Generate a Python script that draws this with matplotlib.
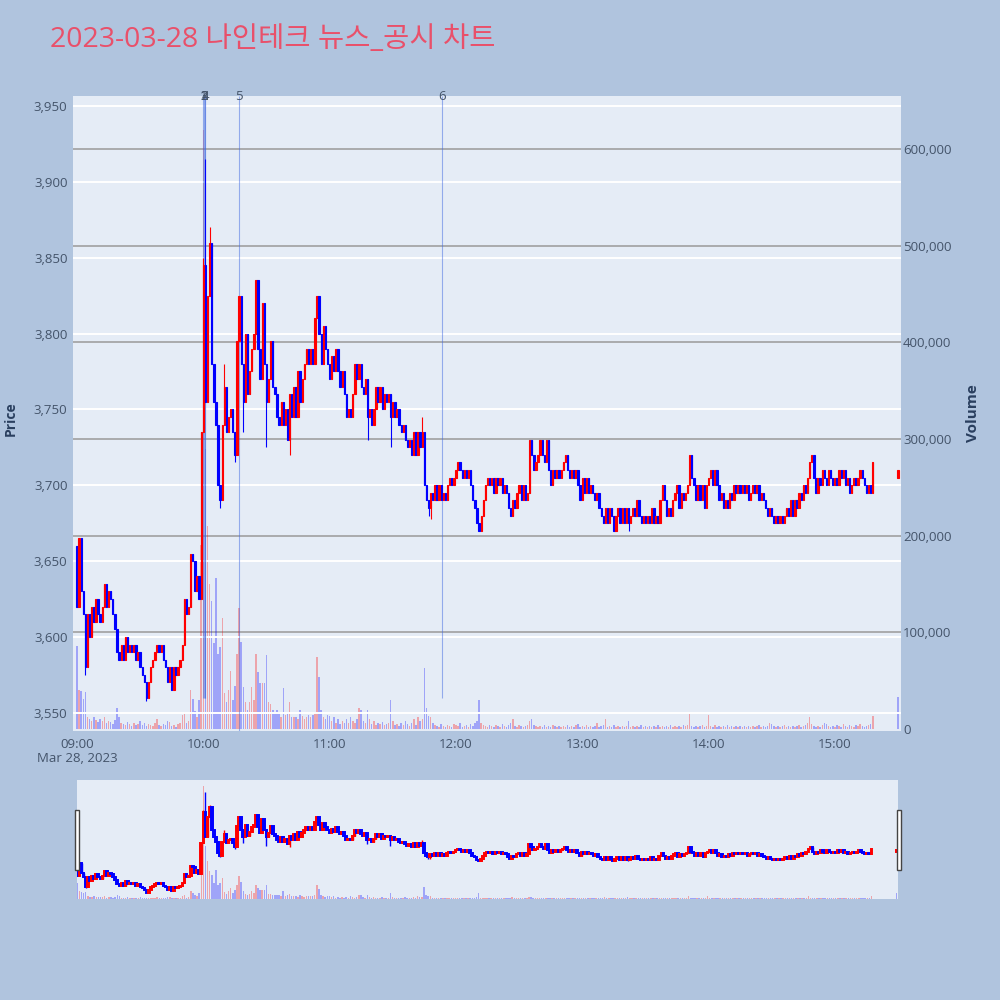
import numpy as np
import matplotlib.pyplot as plt
from matplotlib.patches import Rectangle
from matplotlib.transforms import blended_transform_factory

plt.rcParams['font.family'] = ['Open Sans', 'Noto Sans CJK KR', 'DejaVu Sans']

title = '2023-03-28 나인테크 뉴스_공시 차트'

# 1-minute closes from 09:00 (index = minutes after 09:00), last value = 15:30 auction
first_open = 3660
auction_open = 3705
close = [
    3620, 3665, 3630, 3615, 3580, 3615, 3600, 3620, 3610, 3625,
    3615, 3610, 3620, 3635, 3620, 3630, 3625, 3615, 3605, 3590,
    3585, 3595, 3585, 3600, 3590, 3595, 3590, 3595, 3585, 3590,
    3580, 3575, 3570, 3560, 3570, 3580, 3585, 3590, 3595, 3590,
    3595, 3585, 3580, 3570, 3580, 3565, 3580, 3575, 3580, 3585,
    3595, 3625, 3615, 3620, 3655, 3650, 3630, 3640, 3625, 3735,
    3845, 3755, 3825, 3860, 3780, 3755, 3740, 3700, 3690, 3740,
    3765, 3735, 3745, 3750, 3735, 3720, 3795, 3825, 3780, 3755,
    3800, 3760, 3775, 3790, 3800, 3835, 3790, 3770, 3820, 3780,
    3755, 3770, 3795, 3765, 3760, 3745, 3740, 3755, 3740, 3750,
    3730, 3760, 3745, 3765, 3745, 3775, 3755, 3770, 3780, 3790,
    3780, 3790, 3780, 3810, 3825, 3800, 3780, 3805, 3790, 3780,
    3770, 3785, 3775, 3790, 3775, 3765, 3775, 3760, 3745, 3750,
    3745, 3760, 3780, 3770, 3780, 3765, 3760, 3770, 3745, 3750,
    3740, 3750, 3765, 3755, 3765, 3750, 3760, 3755, 3760, 3745,
    3755, 3745, 3750, 3740, 3735, 3740, 3730, 3725, 3730, 3720,
    3735, 3720, 3735, 3725, 3735, 3700, 3690, 3685, 3695, 3690,
    3700, 3690, 3700, 3690, 3695, 3690, 3700, 3705, 3700, 3705,
    3710, 3715, 3710, 3705, 3710, 3705, 3710, 3700, 3690, 3685,
    3675, 3670, 3680, 3690, 3700, 3705, 3700, 3705, 3695, 3705,
    3700, 3705, 3695, 3700, 3695, 3685, 3680, 3690, 3685, 3695,
    3700, 3690, 3700, 3690, 3695, 3730, 3720, 3710, 3715, 3720,
    3730, 3720, 3715, 3730, 3710, 3700, 3710, 3705, 3710, 3705,
    3710, 3715, 3720, 3710, 3705, 3710, 3705, 3710, 3700, 3690,
    3705, 3695, 3705, 3695, 3700, 3695, 3690, 3695, 3685, 3680,
    3675, 3685, 3675, 3685, 3680, 3670, 3680, 3685, 3675, 3685,
    3675, 3685, 3675, 3680, 3685, 3680, 3690, 3680, 3675, 3680,
    3675, 3680, 3675, 3685, 3675, 3680, 3675, 3690, 3700, 3690,
    3680, 3685, 3680, 3690, 3695, 3700, 3685, 3695, 3690, 3695,
    3700, 3720, 3705, 3700, 3690, 3700, 3690, 3700, 3685, 3700,
    3705, 3710, 3700, 3710, 3700, 3690, 3695, 3685, 3690, 3685,
    3695, 3690, 3700, 3695, 3700, 3695, 3700, 3695, 3700, 3690,
    3695, 3700, 3695, 3700, 3690, 3695, 3690, 3685, 3680, 3685,
    3680, 3675, 3680, 3675, 3680, 3675, 3680, 3685, 3680, 3690,
    3680, 3690, 3685, 3695, 3690, 3700, 3695, 3705, 3715, 3720,
    3705, 3695, 3705, 3700, 3710, 3705, 3700, 3710, 3705, 3700,
    3705, 3700, 3710, 3705, 3710, 3700, 3705, 3695, 3700, 3705,
    3700, 3705, 3710, 3705, 3700, 3695, 3700, 3695, 3715,
    3710,
]
volume = [
    86000, 40000, 39000, 31000, 38000, 13000, 10000, 8000, 12000, 9000,
    7000, 10000, 8000, 12000, 6000, 8000, 7000, 5000, 9000, 22000,
    12000, 6000, 5000, 4000, 7000, 5000, 3000, 6000, 4000, 5000,
    8000, 4000, 6000, 3000, 5000, 4000, 3000, 6000, 10000, 4000,
    3000, 5000, 4000, 8000, 7000, 3000, 4000, 2000, 5000, 6000,
    15000, 18000, 6000, 8000, 40000, 31000, 19000, 12000, 30000, 190000,
    620000, 290000, 210000, 150000, 133000, 89000, 156000, 78000, 85000, 115000,
    37000, 28000, 40000, 60000, 30000, 45000, 78000, 125000, 90000, 44000,
    28000, 20000, 28000, 44000, 30000, 78000, 59000, 48000, 48000, 48000,
    77000, 28000, 26000, 20000, 18000, 20000, 18000, 12000, 43000, 15000,
    18000, 28000, 12000, 12000, 12000, 10000, 20000, 14000, 10000, 12000,
    15000, 13000, 15000, 18000, 75000, 54000, 20000, 12000, 10000, 15000,
    14000, 8000, 12000, 6000, 10000, 5000, 8000, 6000, 10000, 6000,
    12000, 8000, 6000, 10000, 22000, 20000, 8000, 6000, 20000, 10000,
    5000, 8000, 4000, 6000, 5000, 7000, 4000, 5000, 6000, 30000,
    8000, 4000, 5000, 3000, 6000, 4000, 8000, 5000, 3000, 6000,
    10000, 4000, 12000, 8000, 10000, 63000, 22000, 14000, 12000, 6000,
    4000, 3000, 2000, 5000, 3000, 2000, 4000, 3000, 2000, 5000,
    4000, 3000, 6000, 2000, 3000, 4000, 2000, 5000, 3000, 6000,
    8000, 30000, 6000, 4000, 3000, 2000, 4000, 3000, 2000, 4000,
    3000, 2000, 5000, 3000, 2000, 4000, 6000, 10000, 3000, 2000,
    4000, 3000, 2000, 3000, 4000, 8000, 10000, 4000, 3000, 2000,
    3000, 2000, 4000, 2000, 3000, 2000, 4000, 3000, 2000, 3000,
    2000, 3000, 2000, 4000, 2000, 3000, 2000, 4000, 5000, 2000,
    3000, 2000, 4000, 2000, 3000, 2000, 3000, 6000, 2000, 3000,
    4000, 10000, 2000, 3000, 2000, 4000, 2000, 3000, 2000, 3000,
    2000, 3000, 8000, 2000, 3000, 2000, 3000, 2000, 4000, 2000,
    3000, 2000, 3000, 2000, 3000, 2000, 4000, 2000, 3000, 2000,
    3000, 2000, 4000, 2000, 3000, 2000, 3000, 2000, 4000, 3000,
    4000, 16000, 3000, 2000, 3000, 2000, 3000, 4000, 2000, 3000,
    15000, 3000, 2000, 4000, 2000, 3000, 2000, 3000, 2000, 4000,
    2000, 3000, 2000, 3000, 2000, 3000, 2000, 3000, 2000, 3000,
    2000, 3000, 2000, 3000, 4000, 2000, 3000, 2000, 3000, 6000,
    5000, 3000, 2000, 3000, 2000, 3000, 4000, 2000, 3000, 2000,
    3000, 2000, 3000, 4000, 2000, 3000, 4000, 6000, 12000, 5000,
    3000, 2000, 3000, 2000, 4000, 6000, 5000, 3000, 2000, 3000,
    2000, 4000, 3000, 2000, 5000, 3000, 2000, 4000, 3000, 2000,
    4000, 3000, 5000, 3000, 2000, 3000, 4000, 5000, 14000,
    33000,
]
minutes = list(range(379)) + [390]

wick_hi = {60: 3850, 61: 3915, 63: 3870, 70: 3780, 164: 3745}
wick_lo = {4: 3575, 33: 3558, 68: 3685, 75: 3715, 79: 3735, 90: 3725,
           101: 3720, 138: 3730, 149: 3725, 167: 3680, 168: 3678, 262: 3670}

news_time = ['10:00:05', '10:00:20', '10:00:35', '10:00:50', '10:17:00', '11:53:20']
news_label = ['1', '2', '3', '4', '5', '6']
news_bottom = [3560, 3560, 3560, 3560, 3538, 3560]

price_ticks = [3550, 3600, 3650, 3700, 3750, 3800, 3850, 3900, 3950]
vol_ticks = [0, 100000, 200000, 300000, 400000, 500000, 600000]
time_labels = ['09:00', '10:00', '11:00', '12:00', '13:00', '14:00', '15:00']

assert len(close) == len(volume) == len(minutes)

UP, DOWN = '#ff0000', '#0000ff'
BG, PAPER = '#e5ecf6', '#b0c4de'
TXT = '#44546a'

opens = [first_open] + close[:-2] + [auction_open]
prev = [first_open] + close[:-1]
m = np.array(minutes, dtype=float)
o = np.array(opens, dtype=float)
c = np.array(close, dtype=float)
hi = np.array([wick_hi.get(k, max(a, b)) for k, a, b in zip(minutes, o, c)])
lo = np.array([wick_lo.get(k, min(a, b)) for k, a, b in zip(minutes, o, c)])
ccol = [UP if b > a else DOWN for a, b in zip(o, c)]
vcol = [UP if b > a else DOWN for a, b in zip(prev, close)]
news_min = []
for t in news_time:
    hh, mm, ss = [int(v) for v in t.split(':')]
    news_min.append((hh - 9) * 60 + mm + ss / 60)


def draw(ax_p, ax_v, body_lw, wick_lw, width):
    ax_v.bar(m, volume, width=0.7, color=vcol, alpha=0.3, lw=0, zorder=2)
    ax_p.vlines(m, lo, hi, colors=ccol, lw=wick_lw, zorder=4)
    ax_p.bar(m, np.maximum(np.abs(c - o), 0.3), bottom=np.minimum(o, c),
             width=width, color=ccol, edgecolor=ccol, lw=body_lw, zorder=5)


fig = plt.figure(figsize=(10, 10), dpi=100, facecolor=PAPER)

# main chart: volume axis behind, price axis in front
axv = fig.add_axes([0.073, 0.269, 0.828, 0.635])
ax = fig.add_axes([0.073, 0.269, 0.828, 0.635], sharex=axv)
ax.patch.set_visible(False)
axv.set_facecolor(BG)

ax.set_xlim(-1.9, 391.4)
ax.set_ylim(3538, 3956.6)
axv.set_ylim(-2000, 655000)

for v in vol_ticks[1:]:
    axv.axhline(v, color='#a0a0a0', lw=1.2, zorder=1)
for p in price_ticks:
    ax.axhline(p, color='white', lw=1.4, zorder=1)

for t, b in zip(news_min, news_bottom):
    ax.vlines(t, b, 3956.6, color='royalblue', alpha=0.5, lw=0.8, zorder=3)
tr = blended_transform_factory(ax.transData, ax.transAxes)
for t, lab in zip(news_min, news_label):
    ax.text(t, 1.0, lab, transform=tr, ha='center', va='center', fontsize=9.5, color=TXT)

draw(ax, axv, 0.8, 0.8, 0.65)

for a in (ax, axv):
    for s in a.spines.values():
        s.set_visible(False)
    a.tick_params(length=0)

ax.yaxis.tick_left()
ax.set_yticks(price_ticks)
ax.set_yticklabels([f'{p:,}' for p in price_ticks], fontsize=9.5, color=TXT)
ax.tick_params(axis='y', pad=4)
axv.yaxis.tick_right()
axv.set_yticks(vol_ticks)
axv.set_yticklabels([f'{v:,}' for v in vol_ticks], fontsize=9.5, color=TXT)
axv.tick_params(axis='y', pad=1.5)

xt = [i * 60 for i in range(len(time_labels))]
axv.set_xticks(xt)
labels = list(time_labels)
labels[0] = labels[0] + '\nMar 28, 2023'
axv.set_xticklabels(labels, fontsize=9.5, color=TXT, va='top', linespacing=1.1)
axv.tick_params(axis='x', pad=5)
ax.tick_params(axis='x', labelbottom=False)

fig.text(0.011, 0.581, 'Price', rotation=90, ha='center', va='center',
         fontsize=10, fontweight='bold', color='#2a3f5f')
fig.text(0.973, 0.587, 'Volume', rotation=90, ha='center', va='center',
         fontsize=11, fontweight='bold', color='#2a3f5f')

fig.text(0.05, 0.96, title, ha='left', va='center', fontsize=20.5, color='#e9506a')

# range slider
sv = fig.add_axes([0.0767, 0.101, 0.821, 0.119])
sp = fig.add_axes([0.0767, 0.101, 0.821, 0.119], sharex=sv)
sp.patch.set_visible(False)
sv.set_facecolor(BG)
sp.set_xlim(-0.3, 390.5)
sp.set_ylim(3538, 3956.6)
sv.set_ylim(-2000, 655000)
draw(sp, sv, 1.4, 1.0, 0.8)
for a in (sp, sv):
    for s in a.spines.values():
        s.set_visible(False)
    a.set_xticks([])
    a.set_yticks([])

for x0 in (0.0745, 0.8965):
    fig.patches.append(Rectangle((x0, 0.130), 0.0045, 0.060, transform=fig.transFigure,
                                 facecolor='white', edgecolor='#444444', lw=1.0))

fig.savefig('out.png', dpi=100, facecolor=PAPER)
